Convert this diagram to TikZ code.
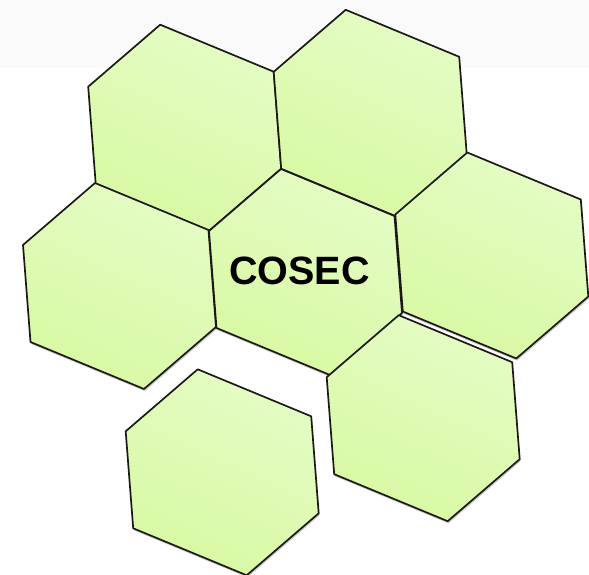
\documentclass[tikz,border=0pt]{standalone}
\usepackage{fontspec}
\setmainfont{Liberation Sans}
\usetikzlibrary{shadows}
\definecolor{hexlight}{HTML}{E4FCC5}
\definecolor{hexdark}{HTML}{D8F9A3}
\definecolor{hexline}{HTML}{1C1A17}
\definecolor{topband}{HTML}{FAFAFA}
\tikzset{
  hexcell/.style={draw=hexline, line width=1.7pt, line join=round,
    top color=hexlight, bottom color=hexdark, shading angle=-25,
    drop shadow={opacity=0.2, shadow xshift=0.8pt, shadow yshift=-2.2pt, fill=black}},
  labeltext/.style={font=\fontsize{39.5}{39.5}\selectfont\bfseries, text=black, inner sep=0pt}
}
\newcommand\hexcellat[1]{%
  \path[hexcell, shift={#1}] (-24.5,-103) -- (89,-56) -- (96.5,41) -- (24.5,103) -- (-89,56) -- (-96.5,-41) -- cycle;}
\begin{document}
\begin{tikzpicture}[x=1pt,y=-1pt]
  \useasboundingbox (0,0) rectangle (589,575);
  \fill[topband] (0,0) rectangle (589,68);
  \hexcellat{(184.7,127.7)}
  \hexcellat{(370.2,112.8)}
  \hexcellat{(119.5,286)}
  \hexcellat{(305.5,272)}
  \hexcellat{(491.8,255.5)}
  \hexcellat{(423.2,418.2)}
  \hexcellat{(222.2,472.3)}
  \node[labeltext] (cosec) at (299.5,271) {COSEC};
\end{tikzpicture}
\end{document}
